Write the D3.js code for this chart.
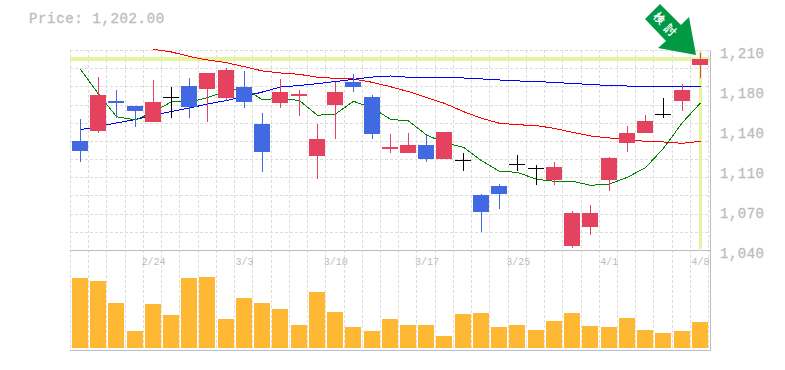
<!DOCTYPE html>
<html>
<head>
<meta charset="utf-8">
<script src="https://cdn.jsdelivr.net/npm/d3@7"></script>
<style>
  html, body { margin: 0; padding: 0; background: #fff; }
  svg { display: block; }
  text { font-family: "Liberation Mono", "DejaVu Sans Mono", monospace; }
</style>
</head>
<body>
<div id="chart"></div>
<script>
// Candles, oldest first
const opens = [1132.65, 1141.15, 1166.65, 1162.4, 1148.8, 1169.8, 1179.4, 1176.85, 1169.2, 1178.55, 1147.1, 1164.95, 1170.9, 1119.9, 1163.25, 1182.8, 1170.05, 1125.85, 1122.45, 1129.25, 1117.35, 1116.25, 1086.75, 1094.4, 1112.85, 1109.45, 1099.5, 1043.4, 1059.55, 1099.5, 1130.95, 1139.45, 1155.3, 1166.65, 1197.25];
const highs = [1151.35, 1187.05, 1176, 1162.4, 1184.5, 1178.55, 1186.2, 1190.45, 1194.7, 1192.15, 1156.45, 1185.35, 1176, 1147.1, 1182.8, 1189.6, 1171.75, 1138.6, 1139.45, 1137.75, 1140.3, 1122.45, 1087.6, 1096.1, 1120.75, 1112.25, 1114.8, 1073.15, 1078.25, 1119.05, 1145.4, 1154.75, 1169.2, 1181.1, 1207.45];
const lows = [1114.8, 1139.7, 1152.2, 1144.55, 1148.8, 1152.2, 1152.2, 1148.8, 1166.65, 1160.7, 1106.5, 1160.7, 1153.9, 1100.6, 1134.35, 1174.3, 1134.35, 1122.45, 1122.45, 1114.8, 1117.35, 1107.15, 1055.3, 1074.85, 1107.15, 1095.5, 1095.25, 1041.7, 1052.75, 1090.15, 1123.3, 1139.45, 1152.2, 1158.15, 1186.2];
const closes = [1124.15, 1171.75, 1164.95, 1158.15, 1165.8, 1169.8, 1161.55, 1190.45, 1193, 1165.8, 1123.3, 1174.3, 1172.6, 1134.35, 1174.3, 1178.55, 1138.6, 1127.55, 1129.25, 1117.35, 1140.3, 1116.25, 1072.3, 1087.6, 1112.85, 1109.45, 1110.55, 1071.45, 1071.45, 1118.2, 1139.45, 1149.65, 1155.3, 1176, 1202.35];
const volumes = [700, 670, 450, 170, 440, 330, 700, 710, 290, 500, 450, 390, 230, 560, 360, 210, 170, 290, 230, 230, 120, 340, 350, 210, 230, 180, 270, 350, 220, 210, 300, 180, 150, 170, 260];

// Moving averages
const maShort = [1193.6, 1172.6, 1153.3, 1150.5, 1157.3, 1166.1, 1165.8, 1169.5, 1175.2, 1177.7, 1167.5, 1169.2, 1166.9, 1154.5, 1155.6, 1166.4, 1160.7, 1151.1, 1149.7, 1137.8, 1131.2, 1127.3, 1115.9, 1106.9, 1106, 1100.1, 1098.4, 1098.4, 1095, 1096.1, 1101.8, 1110, 1126.4, 1148.4, 1165];
const maMid = [1142.3, 1145, 1148, 1150.9, 1154.8, 1157.7, 1160.7, 1164.1, 1167.1, 1170.5, 1174.3, 1178.6, 1179.8, 1181.4, 1183.2, 1185.1, 1187, 1187.9, 1186.8, 1186.8, 1186.6, 1186.2, 1185.4, 1184.5, 1183.7, 1183.2, 1182.4, 1181.5, 1180.7, 1179.8, 1179.4, 1179.4, 1179.4, 1179.4, 1179.4];
const maLong = [null, null, null, null, 1210.6, 1208.3, 1204.5, 1201.5, 1199.2, 1195.8, 1192.2, 1190.5, 1189.3, 1186.8, 1185.9, 1185.4, 1182.5, 1178.8, 1174.6, 1169.5, 1164.7, 1157.6, 1152, 1147.7, 1146.5, 1145.7, 1143.4, 1140, 1136.9, 1135.2, 1133.5, 1132.4, 1131.8, 1130.7, 1132.4];

// Axis labels
const priceTicks = [1040, 1074, 1108, 1142, 1176, 1210];
const priceTickLabels = ['1,040', '1,070', '1,110', '1,140', '1,180', '1,210'];
const dateTickIndex = [4, 9, 14, 19, 24, 29, 34];
const dateTickLabels = ['2/24', '3/3', '3/10', '3/17', '3/25', '4/1', '4/8'];

const lastPrice = 1202;
const lastPriceLabel = 'Price: 1,202.00';
const arrowLabel = '検討';

const width = 785;
const height = 370;
const left = 70.5;
const right = 708.7;
const axisX = 710;
const priceTop = 50;
const priceBottom = 250;
const volBottom = 350;

const RED = '#e4425f';
const BLUE = '#4169e1';
const MUTED = '#bcbcbc';
const GRID = '#dcdcdc';
const HILITE = '#e3f5a3';

const svg = d3.select('#chart').append('svg')
  .attr('width', width)
  .attr('height', height);

// Scales
const x = d3.scaleBand()
  .domain(d3.range(closes.length))
  .range([left, right]);

const y = d3.scaleLinear()
  .domain([1040, 1210])
  .range([priceBottom, priceTop]);

const yVol = d3.scaleLinear()
  .domain([0, 1000])
  .range([volBottom - 2, volBottom - 102]);

const bodyLeft = i => Math.round(x(i) + 1.3);
const center = i => bodyLeft(i) + 8;

// Gridlines
const grid = svg.append('g')
  .attr('stroke', GRID)
  .attr('stroke-dasharray', '3,2')
  .attr('shape-rendering', 'crispEdges');

d3.range(12).forEach(i => {
  const gy = Math.round(priceTop + i * (priceBottom - priceTop) / 11) + 0.5;
  grid.append('line')
    .attr('x1', 70).attr('x2', axisX)
    .attr('y1', gy).attr('y2', gy);
});

d3.range(closes.length + 1).forEach(i => {
  const gx = Math.floor(left + i * x.step()) + 0.5;
  grid.append('line')
    .attr('x1', gx).attr('x2', gx)
    .attr('y1', priceTop).attr('y2', volBottom);
});

// Panel frame
const frame = svg.append('g')
  .attr('stroke', '#bdbdbd')
  .attr('shape-rendering', 'crispEdges');

[priceBottom + 0.5, volBottom + 0.5].forEach(fy => {
  frame.append('line')
    .attr('x1', 70).attr('x2', axisX + 1)
    .attr('y1', fy).attr('y2', fy);
});

frame.append('line')
  .attr('x1', axisX + 0.5).attr('x2', axisX + 0.5)
  .attr('y1', priceTop).attr('y2', volBottom);

// Last price highlight
svg.append('rect')
  .attr('x', 70)
  .attr('y', Math.round(y(lastPrice)) - 2)
  .attr('width', axisX - 70)
  .attr('height', 4)
  .attr('fill', HILITE);

svg.append('rect')
  .attr('x', center(closes.length - 1) - 1)
  .attr('y', priceTop)
  .attr('width', 3)
  .attr('height', priceBottom - priceTop - 1)
  .attr('fill', HILITE);

// Moving averages
const maLine = d3.line()
  .defined(d => d !== null)
  .x((d, i) => center(i) + 0.5)
  .y(d => y(d));

[[maLong, '#ff0000'], [maMid, '#0000ff'], [maShort, '#008000']].forEach(([values, color]) => {
  svg.append('path')
    .attr('d', maLine(values))
    .attr('fill', 'none')
    .attr('stroke', color)
    .attr('stroke-width', 1)
    .attr('shape-rendering', 'crispEdges');
});

// Candles
const candleColor = i => closes[i] > opens[i] ? RED : closes[i] < opens[i] ? BLUE : '#000';

const candles = svg.append('g').attr('shape-rendering', 'crispEdges');

closes.forEach((close, i) => {
  const g = candles.append('g');
  const color = candleColor(i);
  const top = Math.round(y(Math.max(opens[i], close)));
  const bottom = Math.round(y(Math.min(opens[i], close)));

  g.append('line')
    .attr('x1', center(i) + 0.5).attr('x2', center(i) + 0.5)
    .attr('y1', Math.round(y(highs[i]))).attr('y2', Math.round(y(lows[i])))
    .attr('stroke', color);

  if (color === '#000') {
    g.append('line')
      .attr('x1', bodyLeft(i)).attr('x2', bodyLeft(i) + 16)
      .attr('y1', top + 0.5).attr('y2', top + 0.5)
      .attr('stroke', color);
  } else {
    g.append('rect')
      .attr('x', bodyLeft(i))
      .attr('y', top)
      .attr('width', 16)
      .attr('height', bottom - top)
      .attr('fill', color);
  }
});

// Volume bars
svg.append('g')
  .attr('shape-rendering', 'crispEdges')
  .selectAll('rect')
  .data(volumes)
  .join('rect')
  .attr('x', (d, i) => bodyLeft(i))
  .attr('y', d => Math.round(yVol(d)))
  .attr('width', 16)
  .attr('height', d => yVol(0) - Math.round(yVol(d)))
  .attr('fill', '#ffb833');

// Price axis
const yAxis = svg.append('g')
  .attr('transform', `translate(${axisX},0)`)
  .call(d3.axisRight(y)
    .tickValues(priceTicks)
    .tickSize(0)
    .tickPadding(10)
    .tickFormat((d, i) => priceTickLabels[i]));

yAxis.select('.domain').remove();
yAxis.selectAll('text')
  .attr('dy', null)
  .attr('y', 7)
  .attr('fill', MUTED)
  .attr('stroke', MUTED)
  .attr('stroke-width', 0.3)
  .attr('font-size', '14px')
  .attr('letter-spacing', '0.5px');

// Date axis
const xAxis = svg.append('g')
  .attr('transform', `translate(0,${priceBottom})`)
  .call(d3.axisBottom(d3.scaleLinear()
      .domain([0, closes.length - 1])
      .range([center(0), center(closes.length - 1)]))
    .tickValues(dateTickIndex)
    .tickSize(0)
    .tickPadding(0)
    .tickFormat((d, i) => dateTickLabels[i]));

xAxis.select('.domain').remove();
xAxis.selectAll('text')
  .attr('dy', null)
  .attr('y', 15)
  .attr('fill', MUTED)
  .attr('font-size', '10px');

// Current price caption
svg.append('text')
  .attr('x', 29)
  .attr('y', 23)
  .attr('fill', MUTED)
  .attr('stroke', MUTED)
  .attr('stroke-width', 0.3)
  .attr('font-size', '14px')
  .attr('letter-spacing', '0.65px')
  .text(lastPriceLabel);

// Arrow marker, anchored on the last candle
const last = closes.length - 1;
const arrow = svg.append('g')
  .attr('transform', `translate(${center(last) - 4},${y(highs[last]) + 2})`);

arrow.append('path')
  .attr('d', 'M-36,-51 L-51,-36 L-30,-14 L-38,-7 L0,0 L-7,-38 L-15,-30 Z')
  .attr('fill', '#009944');

arrow.append('text')
  .attr('transform', 'translate(-29,-29) rotate(45)')
  .attr('text-anchor', 'middle')
  .attr('dy', '0.36em')
  .attr('fill', '#fff')
  .attr('font-family', '"Noto Sans CJK JP", sans-serif')
  .attr('font-weight', 'bold')
  .attr('font-size', '11px')
  .attr('letter-spacing', '5px')
  .text(arrowLabel);
</script>
</body>
</html>
